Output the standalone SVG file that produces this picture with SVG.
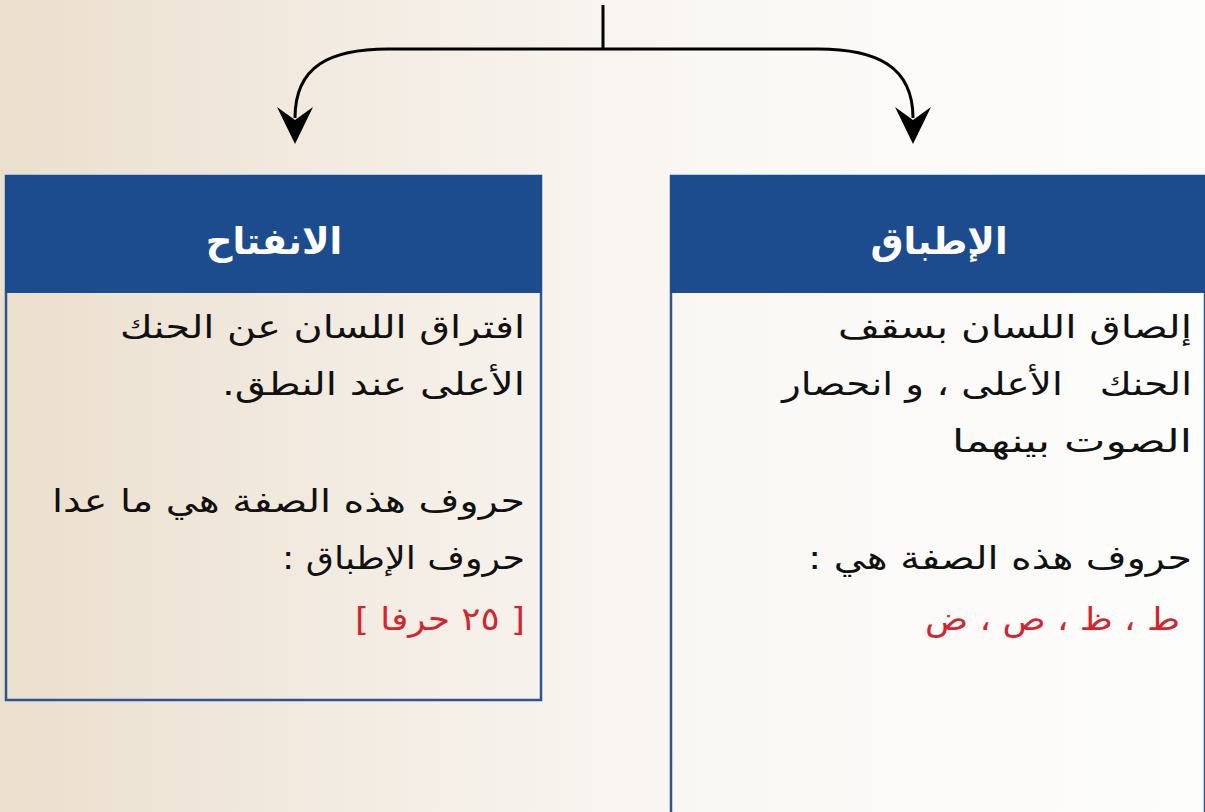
<svg xmlns="http://www.w3.org/2000/svg" width="1205" height="812" viewBox="0 0 1205 812">
  <defs>
    <linearGradient id="bg" x1="0" y1="0" x2="1" y2="0">
      <stop offset="0" stop-color="#ebdfcd"/>
      <stop offset="0.3" stop-color="#f3ece3"/>
      <stop offset="0.6" stop-color="#faf8f5"/>
      <stop offset="1" stop-color="#fdfdfc"/>
    </linearGradient>
    <style>
      .hdr { fill: #1c4b8e; }
      .box { fill: none; stroke: #2a5597; stroke-width: 2.5; }
      .htxt { font-family: "DejaVu Sans", sans-serif; font-weight: bold; font-size: 37px; fill: #ffffff; text-anchor: middle; }
      .btxt { font-family: "DejaVu Sans", sans-serif; font-size: 32px; fill: #111111; text-anchor: start; direction: rtl; white-space: pre; }
      .red { fill: #d3252d; }
      .conn { fill: none; stroke: #000; stroke-width: 3; }
      .head { fill: #000; }
    </style>
  </defs>
  <rect x="0" y="0" width="1205" height="812" fill="url(#bg)"/>

  <g id="connectors">
    <line class="conn" x1="603" y1="5" x2="603" y2="49"/>
    <path class="conn" d="M603 49 H388 C330 49 295 66 295 118"/>
    <path class="conn" d="M603 49 H818 C876 49 913 66 913 118"/>
    <path class="head" d="M277 107 L295 144 L313 107 L295 120 Z"/>
    <path class="head" d="M895 107 L913 144 L931 107 L913 120 Z"/>
  </g>

  <g id="node-infitah">
    <rect class="box" x="6" y="176" width="535" height="524"/>
    <rect class="hdr" x="5" y="175" width="537" height="118"/>
    <text class="htxt" x="274" y="254">الانفتاح</text>
    <text class="btxt" x="525" y="338" textLength="405" lengthAdjust="spacingAndGlyphs">افتراق اللسان عن الحنك</text>
    <text class="btxt" x="525" y="395" textLength="303" lengthAdjust="spacingAndGlyphs">الأعلى عند النطق.</text>
    <text class="btxt" x="525" y="512" textLength="473" lengthAdjust="spacingAndGlyphs">حروف هذه الصفة هي ما عدا</text>
    <text class="btxt" x="525" y="569" textLength="243" lengthAdjust="spacingAndGlyphs">حروف الإطباق :</text>
    <text class="btxt red" x="525" y="630" textLength="170" lengthAdjust="spacingAndGlyphs">[ ٢٥ حرفا ]</text>
  </g>

  <g id="node-itbaq">
    <rect class="box" x="671" y="176" width="534" height="650"/>
    <rect class="hdr" x="670" y="175" width="536" height="118"/>
    <text class="htxt" x="939" y="254">الإطباق</text>
    <text class="btxt" x="1192" y="338" textLength="354" lengthAdjust="spacingAndGlyphs">إلصاق اللسان بسقف</text>
    <text class="btxt" x="1192" y="395" textLength="410" lengthAdjust="spacingAndGlyphs">الحنك   الأعلى ، و انحصار</text>
    <text class="btxt" x="1192" y="452" textLength="240" lengthAdjust="spacingAndGlyphs">الصوت بينهما</text>
    <text class="btxt" x="1192" y="569" textLength="384" lengthAdjust="spacingAndGlyphs">حروف هذه الصفة هي :</text>
    <text class="btxt red" x="1180" y="630" textLength="255" lengthAdjust="spacingAndGlyphs">ط ، ظ ، ص ، ض</text>
  </g>
</svg>
